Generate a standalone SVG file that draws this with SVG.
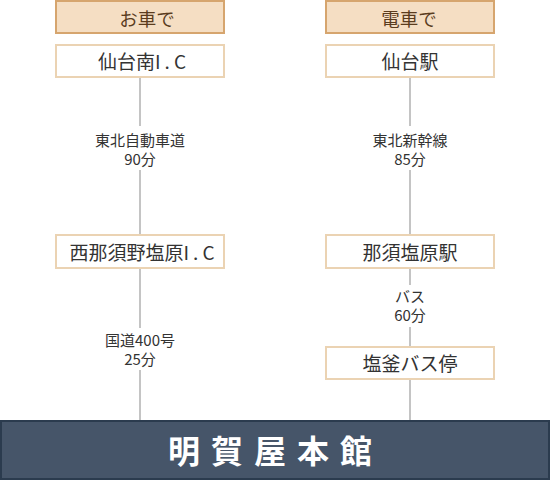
<svg xmlns="http://www.w3.org/2000/svg" width="550" height="480" viewBox="0 0 550 480">
<style>
.hd{fill:#f5dec3;stroke:#d6a56e;stroke-width:2}
.nd{fill:#ffffff;stroke:#ebd3b3;stroke-width:2}
.ht{font-family:"Noto Sans CJK JP","Noto Sans",sans-serif;font-size:18.5px;fill:#5b3c1e;text-anchor:middle}
.nt{font-family:"Noto Sans CJK JP","Noto Sans",sans-serif;font-size:19px;fill:#333333;text-anchor:middle}
.lt{font-family:"Noto Sans CJK JP","Noto Sans",sans-serif;font-size:15px;fill:#333333;text-anchor:middle}
.ln{stroke:#c4c4c4;stroke-width:2;fill:none}
.lbg{fill:#ffffff}
.ic{letter-spacing:4px}
</style>
<rect width="550" height="480" fill="#ffffff"/>
<g id="connectors">
<line class="ln" x1="140" y1="77" x2="140" y2="420"/>
<line class="ln" x1="410" y1="77" x2="410" y2="420"/>
<rect class="lbg" x="80" y="126" width="120" height="44"/>
<text class="lt" x="140" y="145.5">東北自動車道<tspan x="140" dy="19">90分</tspan></text>
<rect class="lbg" x="350" y="126" width="120" height="44"/>
<text class="lt" x="410" y="145.5">東北新幹線<tspan x="410" dy="19">85分</tspan></text>
<rect class="lbg" x="90" y="328" width="100" height="42"/>
<text class="lt" x="140" y="345.5">国道400号<tspan x="140" dy="19">25分</tspan></text>
<rect class="lbg" x="380" y="285" width="60" height="42"/>
<text class="lt" x="410" y="302">バス<tspan x="410" dy="19">60分</tspan></text>
</g>
<g id="header-car">
<rect class="hd" x="56" y="1" width="168" height="32"/>
<text class="ht" x="147" y="26">お車で</text>
</g>
<g id="header-train">
<rect class="hd" x="326" y="1" width="168" height="32"/>
<text class="ht" x="409" y="26">電車で</text>
</g>
<g id="node-sendai-minami">
<rect class="nd" x="56" y="45" width="168" height="32"/>
<text class="nt" x="142" y="69">仙台南<tspan class="ic">I.</tspan>C</text>
</g>
<g id="node-nishinasuno">
<rect class="nd" x="56" y="235" width="168" height="33"/>
<text class="nt" x="142" y="260">西那須野塩原<tspan class="ic">I.</tspan>C</text>
</g>
<g id="node-sendai-eki">
<rect class="nd" x="326" y="45" width="168" height="32"/>
<text class="nt" x="410" y="69">仙台駅</text>
</g>
<g id="node-nasushiobara">
<rect class="nd" x="326" y="235" width="168" height="33"/>
<text class="nt" x="410" y="260">那須塩原駅</text>
</g>
<g id="node-shiogama">
<rect class="nd" x="326" y="347" width="168" height="32"/>
<text class="nt" x="410" y="371">塩釜バス停</text>
</g>
<g id="node-meigaya">
<rect x="1" y="421" width="548" height="58" fill="#465569" stroke="#2b3b4e" stroke-width="2"/>
<text x="275.5" y="463" font-family="'Noto Sans CJK JP',sans-serif" font-size="32" font-weight="bold" fill="#ffffff" text-anchor="middle" letter-spacing="11">明賀屋本館</text>
</g>
</svg>
